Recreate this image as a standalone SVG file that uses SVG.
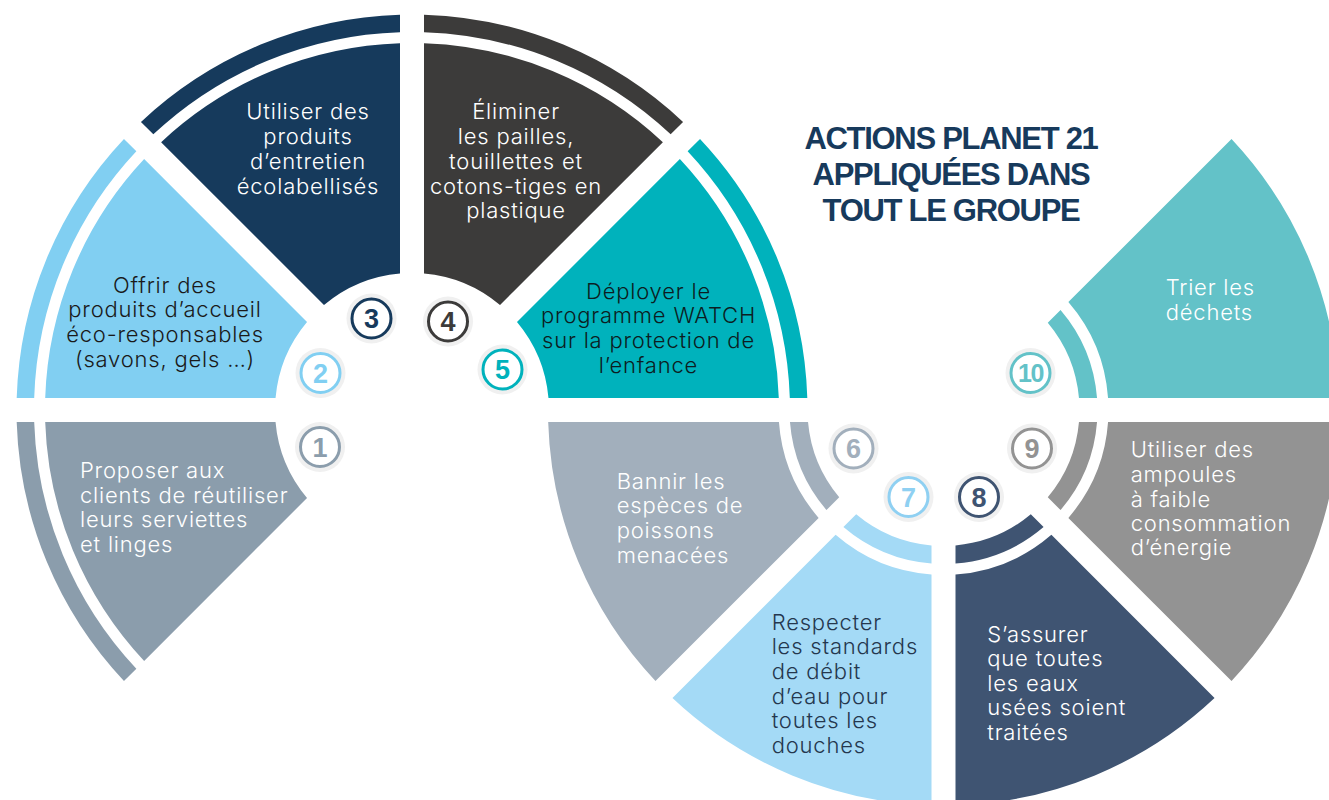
<svg xmlns="http://www.w3.org/2000/svg" width="1329" height="800" viewBox="0 0 1329 800">
  <style>
    .lbl { font-family: Inter, "Liberation Sans", Arial, sans-serif; font-weight: 300; font-size: 22px; letter-spacing: 0.8px; }
    .w { fill: #ffffff; }
    .mid { text-anchor: middle; }
    .halo { fill: #f0f0f0; }
    .ring { fill: #ffffff; stroke-width: 3; }
    .num { font-family: "Liberation Sans", Arial, sans-serif; font-weight: 700; font-size: 27px; text-anchor: middle; }
    .title { font-family: "Liberation Sans", Arial, sans-serif; font-weight: 700; font-size: 31px; letter-spacing: -1.3px; fill: #173a5c; text-anchor: middle; }
  </style>
  <rect width="1329" height="800" fill="#ffffff"/>

  <!-- Left half-wheel: centre (412,410), outer band 378-395.5, body 137-367 -->
  <g id="action-1">
    <path fill="#8b9dac" d="M123.98 681.05 A395.5 395.5 0 0 1 16.68 422 L34.19 422 A378 378 0 0 0 136.36 668.67 Z"/>
    <path fill="#8b9dac" d="M144.15 660.88 A367 367 0 0 1 45.20 422 L275.53 422 A137 137 0 0 0 307.02 498.01 Z"/>
    <text class="lbl w"><tspan x="80" y="478">Proposer aux</tspan><tspan x="80" y="502.5">clients de réutiliser</tspan><tspan x="80" y="527">leurs serviettes</tspan><tspan x="80" y="551.5">et linges</tspan></text>
    <circle class="halo" cx="320" cy="447" r="25"/>
    <circle class="ring" cx="320" cy="447" r="19.5" stroke="#8b9dac"/>
    <text class="num" x="320" y="456.5" fill="#8b9dac">1</text>
  </g>

  <g id="action-2">
    <path fill="#81cff2" d="M16.68 398 A395.5 395.5 0 0 1 123.98 138.96 L136.36 151.33 A378 378 0 0 0 34.19 398 Z"/>
    <path fill="#81cff2" d="M45.20 398 A367 367 0 0 1 144.15 159.12 L307.02 321.99 A137 137 0 0 0 275.53 398 Z"/>
    <text class="lbl mid" fill="#1a1a1a"><tspan x="165" y="292.7">Offrir des</tspan><tspan x="165" y="317.3">produits d’accueil</tspan><tspan x="165" y="342.3">éco-responsables</tspan><tspan x="165" y="366.7">(savons, gels …)</tspan></text>
    <circle class="halo" cx="320.5" cy="373" r="25"/>
    <circle class="ring" cx="320.5" cy="373" r="19.5" stroke="#81cff2"/>
    <text class="num" x="320.5" y="382.5" fill="#81cff2">2</text>
  </g>

  <g id="action-3">
    <path fill="#163a5c" d="M140.96 121.98 A395.5 395.5 0 0 1 400 14.68 L400 32.19 A378 378 0 0 0 153.33 134.36 Z"/>
    <path fill="#163a5c" d="M161.12 142.15 A367 367 0 0 1 400 43.20 L400 273.53 A137 137 0 0 0 323.99 305.02 Z"/>
    <text class="lbl w mid"><tspan x="308" y="119.3">Utiliser des</tspan><tspan x="308" y="144.3">produits</tspan><tspan x="308" y="169.3">d’entretien</tspan><tspan x="308" y="194">écolabellisés</tspan></text>
    <circle class="halo" cx="371.5" cy="318.5" r="25"/>
    <circle class="ring" cx="371.5" cy="318.5" r="19.5" stroke="#163a5c"/>
    <text class="num" x="371.5" y="328" fill="#163a5c">3</text>
  </g>

  <g id="action-4">
    <path fill="#3c3b3a" d="M424 14.68 A395.5 395.5 0 0 1 683.05 121.98 L670.67 134.36 A378 378 0 0 0 424 32.19 Z"/>
    <path fill="#3c3b3a" d="M424 43.20 A367 367 0 0 1 662.88 142.15 L500.01 305.02 A137 137 0 0 0 424 273.53 Z"/>
    <text class="lbl w mid"><tspan x="516" y="119.3">Éliminer</tspan><tspan x="516" y="144.3">les pailles,</tspan><tspan x="516" y="169">touillettes et</tspan><tspan x="516" y="194">cotons-tiges en</tspan><tspan x="516" y="218.3">plastique</tspan></text>
    <circle class="halo" cx="448" cy="321.5" r="25"/>
    <circle class="ring" cx="448" cy="321.5" r="19.5" stroke="#3c3b3a"/>
    <text class="num" x="448" y="331" fill="#3c3b3a">4</text>
  </g>

  <g id="action-5">
    <path fill="#00b2bc" d="M700.02 138.96 A395.5 395.5 0 0 1 807.32 398 L789.81 398 A378 378 0 0 0 687.64 151.33 Z"/>
    <path fill="#00b2bc" d="M679.86 159.12 A367 367 0 0 1 778.80 398 L548.47 398 A137 137 0 0 0 516.99 321.99 Z"/>
    <text class="lbl mid" fill="#0c1d22"><tspan x="648.5" y="299">Déployer le</tspan><tspan x="648.5" y="323.3">programme WATCH</tspan><tspan x="648.5" y="348.3">sur la protection de</tspan><tspan x="648.5" y="372.7">l’enfance</tspan></text>
    <circle class="halo" cx="502.5" cy="369.5" r="25"/>
    <circle class="ring" cx="502.5" cy="369.5" r="19.5" stroke="#00b2bc"/>
    <text class="num" x="502.5" y="379" fill="#00b2bc">5</text>
  </g>

  <!-- Right half-wheel: centre (943.5,410), inner band 136-154, body 165-395.5 -->
  <g id="action-6">
    <path fill="#a2afbc" d="M826.45 510.08 A154 154 0 0 1 789.97 422 L808.03 422 A136 136 0 0 0 839.22 497.31 Z"/>
    <path fill="#a2afbc" d="M655.48 681.05 A395.5 395.5 0 0 1 548.18 422 L778.94 422 A165 165 0 0 0 818.65 517.88 Z"/>
    <text class="lbl w"><tspan x="616.7" y="489.3">Bannir les</tspan><tspan x="616.7" y="513.3">espèces de</tspan><tspan x="616.7" y="538.3">poissons</tspan><tspan x="616.7" y="563.3">menacées</tspan></text>
    <circle class="halo" cx="853.5" cy="448.5" r="25"/>
    <circle class="ring" cx="853.5" cy="448.5" r="19.5" stroke="#a2afbc"/>
    <text class="num" x="853.5" y="458" fill="#a2afbc">6</text>
  </g>

  <g id="action-7">
    <path fill="#a4daf6" d="M931.5 563.53 A154 154 0 0 1 843.42 527.05 L856.19 514.28 A136 136 0 0 0 931.5 545.47 Z"/>
    <path fill="#a4daf6" d="M931.5 805.32 A395.5 395.5 0 0 1 672.46 698.02 L835.62 534.85 A165 165 0 0 0 931.5 574.56 Z"/>
    <text class="lbl" fill="#24374e"><tspan x="771.7" y="630">Respecter</tspan><tspan x="771.7" y="654">les standards</tspan><tspan x="771.7" y="679">de débit</tspan><tspan x="771.7" y="704">d’eau pour</tspan><tspan x="771.7" y="728.3">toutes les</tspan><tspan x="771.7" y="752.7">douches</tspan></text>
    <circle class="halo" cx="908.5" cy="497" r="25"/>
    <circle class="ring" cx="908.5" cy="497" r="19.5" stroke="#8fd0f2"/>
    <text class="num" x="908.5" y="506.5" fill="#8fd0f2">7</text>
  </g>

  <g id="action-8">
    <path fill="#3f5472" d="M1043.58 527.05 A154 154 0 0 1 955.5 563.53 L955.5 545.47 A136 136 0 0 0 1030.81 514.28 Z"/>
    <path fill="#3f5472" d="M1214.55 698.02 A395.5 395.5 0 0 1 955.5 805.32 L955.5 574.56 A165 165 0 0 0 1051.38 534.85 Z"/>
    <text class="lbl w"><tspan x="987.3" y="641.7">S’assurer</tspan><tspan x="987.3" y="666">que toutes</tspan><tspan x="987.3" y="690.7">les eaux</tspan><tspan x="987.3" y="715">usées soient</tspan><tspan x="987.3" y="740">traitées</tspan></text>
    <circle class="halo" cx="979" cy="497" r="25"/>
    <circle class="ring" cx="979" cy="497" r="19.5" stroke="#3f5472"/>
    <text class="num" x="979" y="506.5" fill="#3f5472">8</text>
  </g>

  <g id="action-9">
    <path fill="#939393" d="M1097.03 422 A154 154 0 0 1 1060.55 510.08 L1047.78 497.31 A136 136 0 0 0 1078.97 422 Z"/>
    <path fill="#939393" d="M1338.82 422 A395.5 395.5 0 0 1 1231.52 681.05 L1068.35 517.88 A165 165 0 0 0 1108.06 422 Z"/>
    <text class="lbl w"><tspan x="1130.7" y="456.7">Utiliser des</tspan><tspan x="1130.7" y="481.7">ampoules</tspan><tspan x="1130.7" y="506.7">à faible</tspan><tspan x="1130.7" y="530.7">consommation</tspan><tspan x="1130.7" y="555">d’énergie</tspan></text>
    <circle class="halo" cx="1032" cy="448.5" r="25"/>
    <circle class="ring" cx="1032" cy="448.5" r="19.5" stroke="#939393"/>
    <text class="num" x="1032" y="458" fill="#939393">9</text>
  </g>

  <g id="action-10">
    <path fill="#63c2c8" d="M1060.55 309.92 A154 154 0 0 1 1097.03 398 L1078.97 398 A136 136 0 0 0 1047.78 322.69 Z"/>
    <path fill="#63c2c8" d="M1231.52 138.96 A395.5 395.5 0 0 1 1338.82 398 L1108.06 398 A165 165 0 0 0 1068.35 302.12 Z"/>
    <text class="lbl w"><tspan x="1165.7" y="295">Trier les</tspan><tspan x="1165.7" y="320">déchets</tspan></text>
    <circle class="halo" cx="1030.5" cy="373" r="25"/>
    <circle class="ring" cx="1030.5" cy="373" r="19.5" stroke="#63c2c8"/>
    <text class="num" x="1030.5" y="382" fill="#63c2c8" style="font-size:25px;letter-spacing:-1.5px">10</text>
  </g>

  <g id="title">
    <text class="title"><tspan x="951" y="149.3">ACTIONS PLANET 21</tspan><tspan x="951" y="185">APPLIQUÉES DANS</tspan><tspan x="951" y="220.7">TOUT LE GROUPE</tspan></text>
  </g>
</svg>
